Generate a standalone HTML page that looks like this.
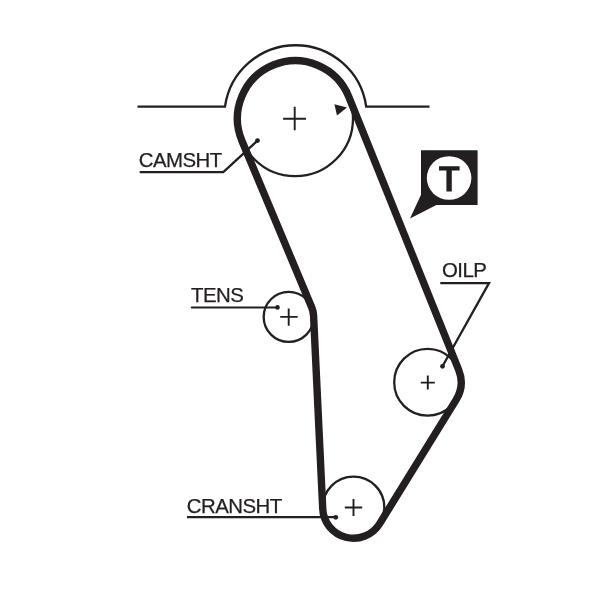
<!DOCTYPE html>
<html><head><meta charset="utf-8">
<style>
html,body{margin:0;padding:0;background:#fff;width:600px;height:589px;overflow:hidden}
svg{display:block}
text{font-family:"Liberation Sans",sans-serif;fill:#231f20;stroke:#231f20;stroke-width:0.25px}
svg{will-change:transform}
</style></head><body>
<svg width="600" height="589" viewBox="0 0 600 589">
<g fill="none" stroke="#231f20">
<!-- housing -->
<path d="M137.5 106.6 H225 A71.3 71.3 0 0 1 366.2 106.6 H429.5" stroke-width="2.3"/>
<!-- pulleys -->
<circle cx="295.2" cy="118.4" r="57.8" stroke-width="2.3"/>
<circle cx="288.7" cy="316.9" r="25" stroke-width="2.3"/>
<circle cx="427.6" cy="382.3" r="33.4" stroke-width="2.3"/>
<circle cx="353.5" cy="507.4" r="30.8" stroke-width="2.3"/>
<!-- belt -->
<path d="M348.82 96.82 L458.68 369.79 A33.50 33.50 0 0 1 456.10 399.90 L379.70 523.59 A30.80 30.80 0 0 1 322.73 508.86 L313.57 315.72 A25.00 25.00 0 0 0 311.66 307.24 L241.89 140.74 A57.80 57.80 0 1 1 348.82 96.82 Z" stroke-width="7.4" stroke-linejoin="round"/>
<!-- crosshairs -->
<path d="M283.1 118.7 H306 M294.7 106.8 V130.3" stroke-width="1.9"/>
<path d="M280.2 316.9 H297.7 M288.7 308.4 V325.7" stroke-width="1.9"/>
<path d="M420.8 382.6 H434.8 M427.8 375.6 V389.6" stroke-width="1.9"/>
<path d="M344.8 507.5 H362.2 M353.5 499 V516" stroke-width="1.9"/>
<!-- leaders -->
<path d="M140.6 172.2 H223.3 L257.5 140.6" stroke-width="2.3" stroke-linecap="round"/>
<path d="M191.8 307.5 H277.5" stroke-width="2.2" stroke-linecap="round"/>
<path d="M440.3 283.1 H489 L442.5 366.3" stroke-width="2.3"/>
<path d="M187 517.2 H335.7" stroke-width="2.3"/>
</g>
<g fill="#231f20">
<circle cx="257.5" cy="140.6" r="2.4"/>
<circle cx="277.5" cy="307.4" r="2.3"/>
<circle cx="442.5" cy="366.3" r="2.4"/>
<circle cx="335.8" cy="517.3" r="2.4"/>
<path d="M334.4 104.3 L347 107.4 L337 115.4 Z"/>
<!-- T icon -->
<path d="M421 150.2 H477.6 V204.9 H436.4 L410 218.4 L421 194.7 Z"/>
</g>
<ellipse cx="449.1" cy="178" rx="22.3" ry="21.8" fill="#fff"/>
<path d="M439 166.3 H459.6 V170.4 H451.8 V191.6 H446.4 V170.4 H439 Z" fill="#231f20"/>
<text x="138.7" y="166.6" font-size="20.4" letter-spacing="-0.5">CAMSHT</text>
<text x="191" y="301.5" font-size="20.4" letter-spacing="-0.5">TENS</text>
<text x="441.9" y="276.6" font-size="20.4" letter-spacing="-0.5">OILP</text>
<text x="186.7" y="513" font-size="20.4" letter-spacing="-0.5">CRANSHT</text>
</svg>
</body></html>
